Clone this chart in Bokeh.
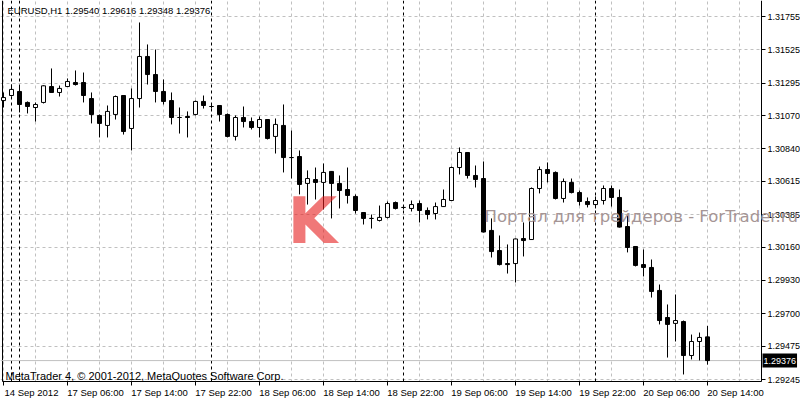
from bokeh.plotting import figure
from bokeh.models import (FixedTicker, Span, Label, Range1d, ColumnDataSource,
                          NumeralTickFormatter, BoxAnnotation, LinearAxis)
from bokeh.embed import file_html
from bokeh.resources import INLINE

symbol = "EURUSD,H1"
copyright_text = "MetaTrader 4, \u00a9 2001-2012, MetaQuotes Software Corp."
watermark_text = "Портал для трейдеров - ForTrader.ru"

opens = [1.31174, 1.31209, 1.31237, 1.31161, 1.31126, 1.31161, 1.31271, 1.31230, 1.31271, 1.31299,
         1.31299, 1.31188, 1.31071, 1.31002, 1.31078, 1.31209, 1.30981, 1.31188, 1.31479, 1.31354,
         1.31237, 1.31174, 1.31057, 1.31064, 1.31078, 1.31168, 1.31133, 1.31140, 1.31078, 1.30926,
         1.31057, 1.31029, 1.30988, 1.31043, 1.30926, 1.31002, 1.30780, 1.30787, 1.30601, 1.30628,
         1.30608, 1.30684, 1.30601, 1.30559, 1.30511, 1.30400, 1.30359, 1.30345, 1.30366, 1.30469,
         1.30435, 1.30428, 1.30462, 1.30414, 1.30393, 1.30441, 1.30483, 1.30711, 1.30815, 1.30656,
         1.30635, 1.30276, 1.30137, 1.30047, 1.30047, 1.30220, 1.30213, 1.30566, 1.30697, 1.30677,
         1.30497, 1.30608, 1.30538, 1.30476, 1.30455, 1.30483, 1.30566, 1.30504, 1.30303, 1.30165,
         1.30040, 1.30020, 1.29861, 1.29674, 1.29633, 1.29646, 1.29411, 1.29508, 1.29540]
highs = [1.31230, 1.31285, 1.31271, 1.31168, 1.31161, 1.31280, 1.31396, 1.31278, 1.31327, 1.31382,
         1.31368, 1.31230, 1.31078, 1.31140, 1.31209, 1.31212, 1.31258, 1.31714, 1.31562, 1.31527,
         1.31320, 1.31230, 1.31126, 1.31099, 1.31174, 1.31209, 1.31154, 1.31143, 1.31085, 1.31071,
         1.31133, 1.31057, 1.31064, 1.31046, 1.31050, 1.31147, 1.30967, 1.30829, 1.30691, 1.30711,
         1.30739, 1.30687, 1.30656, 1.30711, 1.30525, 1.30403, 1.30386, 1.30448, 1.30476, 1.30476,
         1.30448, 1.30483, 1.30483, 1.30435, 1.30469, 1.30559, 1.30718, 1.30850, 1.30818, 1.30725,
         1.30753, 1.30359, 1.30241, 1.30179, 1.30220, 1.30331, 1.30573, 1.30718, 1.30746, 1.30684,
         1.30635, 1.30635, 1.30552, 1.30504, 1.30511, 1.30587, 1.30587, 1.30559, 1.30379, 1.30168,
         1.30144, 1.30075, 1.29902, 1.29764, 1.29833, 1.29653, 1.29556, 1.29570, 1.29616]
lows = [1.31126, 1.31202, 1.31092, 1.31085, 1.31029, 1.31154, 1.31230, 1.31202, 1.31268, 1.31278,
        1.31161, 1.31016, 1.30919, 1.30919, 1.31043, 1.30939, 1.30829, 1.31126, 1.31285, 1.31161,
        1.31147, 1.31009, 1.30946, 1.30919, 1.31071, 1.31119, 1.31119, 1.31029, 1.30919, 1.30898,
        1.30988, 1.30974, 1.30919, 1.30905, 1.30808, 1.30677, 1.30635, 1.30525, 1.30455, 1.30490,
        1.30421, 1.30359, 1.30428, 1.30462, 1.30393, 1.30317, 1.30289, 1.30338, 1.30359, 1.30421,
        1.30421, 1.30407, 1.30331, 1.30352, 1.30352, 1.30438, 1.30480, 1.30663, 1.30635, 1.30573,
        1.30262, 1.30089, 1.30034, 1.29978, 1.29916, 1.30096, 1.30210, 1.30532, 1.30608, 1.30490,
        1.30469, 1.30532, 1.30448, 1.30435, 1.30428, 1.30455, 1.30441, 1.30296, 1.30124, 1.30027,
        1.29958, 1.29812, 1.29626, 1.29397, 1.29508, 1.29280, 1.29384, 1.29377, 1.29348]
closes = [1.31195, 1.31251, 1.31147, 1.31133, 1.31147, 1.31276, 1.31230, 1.31258, 1.31306, 1.31285,
          1.31209, 1.31078, 1.31016, 1.31099, 1.31202, 1.30960, 1.31188, 1.31479, 1.31354, 1.31237,
          1.31168, 1.31057, 1.31057, 1.31057, 1.31168, 1.31140, 1.31133, 1.31078, 1.30926, 1.31057,
          1.31029, 1.30988, 1.31043, 1.30912, 1.31009, 1.30780, 1.30780, 1.30594, 1.30635, 1.30608,
          1.30677, 1.30601, 1.30552, 1.30518, 1.30414, 1.30359, 1.30359, 1.30366, 1.30462, 1.30428,
          1.30435, 1.30455, 1.30414, 1.30386, 1.30441, 1.30490, 1.30711, 1.30815, 1.30656, 1.30628,
          1.30265, 1.30130, 1.30040, 1.30040, 1.30217, 1.30206, 1.30566, 1.30697, 1.30670, 1.30497,
          1.30614, 1.30538, 1.30476, 1.30455, 1.30483, 1.30566, 1.30504, 1.30299, 1.30158, 1.30034,
          1.30020, 1.29854, 1.29653, 1.29626, 1.29653, 1.29411, 1.29508, 1.29536, 1.29376]

time_labels = ["14 Sep 2012", "17 Sep 06:00", "17 Sep 14:00", "17 Sep 22:00", "18 Sep 06:00",
               "18 Sep 14:00", "18 Sep 22:00", "19 Sep 06:00", "19 Sep 14:00", "19 Sep 22:00",
               "20 Sep 06:00", "20 Sep 14:00"]
time_label_bars = [0, 8, 16, 24, 32, 40, 48, 56, 64, 72, 80, 88]
day_start_bars = [1, 2, 26, 50, 74]
price_labels = ["1.31755", "1.31525", "1.31295", "1.31070", "1.30840", "1.30615",
                "1.30385", "1.30160", "1.29930", "1.29700", "1.29475", "1.29245"]

FONT = "Liberation Sans"
GRID = "#c0c0c0"

# chart window geometry (bar-index / price units)
X_START, X_END = -0.375, 99.625
Y_START, Y_END = 1.29100, 1.31866
AXIS_X = 94.75      # right price scale position
AXIS_Y = 1.29231    # bottom time scale position
LEFT_EDGE = -0.125
LABEL_SHIFT = 3.5   # time labels start at their tick (half a label width, in bars)

bars = list(range(len(opens)))
tops = [max(o, c) for o, c in zip(opens, closes)]
bottoms = [min(o, c) for o, c in zip(opens, closes)]
fills = ["white" if c >= o else "black" for o, c in zip(opens, closes)]
src = ColumnDataSource(dict(x=bars, high=highs, low=lows, top=tops, bottom=bottoms, fill=fills))

p = figure(width=800, height=400, output_backend="svg", toolbar_location=None,
           x_range=Range1d(X_START, X_END), y_range=Range1d(Y_START, Y_END),
           y_axis_location="right")
p.min_border_left = 0
p.min_border_top = 0
p.min_border_bottom = 0
p.min_border_right = 0
p.background_fill_color = "white"
p.border_fill_color = "white"
p.outline_line_color = None

# grids
p.ygrid.grid_line_color = GRID
p.ygrid.grid_line_dash = "3 3"
p.xgrid.ticker = FixedTicker(ticks=list(range(0, 96, 4)))
p.xgrid.grid_line_color = GRID
p.xgrid.grid_line_dash = "3 3"

# price scale drawn at a fixed position inside the canvas
yax = p.yaxis[0]
yax.fixed_location = AXIS_X
yax.bounds = (AXIS_Y, Y_END)
yax.ticker = FixedTicker(ticks=[float(s) for s in price_labels])
yax.formatter = NumeralTickFormatter(format="0.00000")
yax.major_label_text_font_size = "9px"
yax.major_label_standoff = 2

# time scale: tick marks on one axis, left-aligned labels on a second one
xax = p.xaxis[0]
xax.fixed_location = AXIS_Y
xax.bounds = (LEFT_EDGE, AXIS_X)
xax.ticker = FixedTicker(ticks=time_label_bars)
xax.major_label_overrides = {b: "" for b in time_label_bars}

label_pos = [b + LABEL_SHIFT for b in time_label_bars]
xlab = LinearAxis(fixed_location=AXIS_Y, ticker=FixedTicker(ticks=label_pos),
                  major_label_overrides={pos: t for pos, t in zip(label_pos, time_labels)},
                  axis_line_color=None, major_tick_line_color=None,
                  major_tick_out=0, major_tick_in=0, major_label_standoff=5,
                  major_label_text_font_size="9.5px")
p.add_layout(xlab, "below")

for ax in (xax, yax, xlab):
    if ax is not xlab:
        ax.axis_line_color = "black"
        ax.major_tick_line_color = "black"
        ax.major_tick_out = 4
        ax.major_tick_in = 0
    ax.minor_tick_out = 0
    ax.minor_tick_in = 0
    ax.minor_tick_line_color = None
    ax.major_label_text_font = FONT
    ax.major_label_text_color = "black"

# period separators, left border and bid line
for d in day_start_bars:
    p.add_layout(Span(location=d, dimension="height", line_color="black",
                      line_dash="3 3", line_width=1, level="underlay"))
p.add_layout(Span(location=LEFT_EDGE, dimension="height", line_color="black",
                  line_width=1, level="underlay"))
p.add_layout(Span(location=closes[-1], dimension="width", line_color=GRID,
                  line_width=1, level="underlay"))

# blank the scale areas (right and bottom) under the axes
p.add_layout(BoxAnnotation(left=AXIS_X, fill_color="white", fill_alpha=1.0,
                           line_alpha=0, level="glyph"))
p.add_layout(BoxAnnotation(top=AXIS_Y, fill_color="white", fill_alpha=1.0,
                           line_alpha=0, level="glyph"))

# candles
p.segment(x0="x", y0="high", x1="x", y1="low", source=src, line_color="black", line_width=1)
p.vbar(x="x", width=0.5, top="top", bottom="bottom", source=src,
       fill_color="fill", line_color="black", line_width=1)

# texts
p.add_layout(Label(x=7, y=390, x_units="screen", y_units="screen", text_baseline="middle",
                   text=f"{symbol}  {opens[-1]:.5f} {highs[-1]:.5f} {lows[-1]:.5f} {closes[-1]:.5f}",
                   text_font=FONT, text_font_size="9.5px", text_color="black"))
p.add_layout(Label(x=5, y=25, x_units="screen", y_units="screen", text_baseline="middle",
                   text=copyright_text, text_font=FONT, text_font_size="11px",
                   text_color="black"))
p.add_layout(Label(x=287, y=180, x_units="screen", y_units="screen", text="K",
                   text_font="DejaVu Sans", text_font_style="bold", text_font_size="64px",
                   text_color="#e61e1e", text_alpha=0.6, text_baseline="alphabetic"))
p.add_layout(Label(x=484, y=184, x_units="screen", y_units="screen", text=watermark_text,
                   text_font="DejaVu Sans", text_font_size="16.5px", text_color="#a59595",
                   text_baseline="alphabetic"))
p.add_layout(Label(x=AXIS_X, y=closes[-1], x_offset=1, text=f"{closes[-1]:.5f}",
                   text_baseline="middle", text_font=FONT, text_font_size="9px",
                   text_color="white", background_fill_color="black", padding=(1, 4)))

open("out.html", "w").write(file_html(p, INLINE))
